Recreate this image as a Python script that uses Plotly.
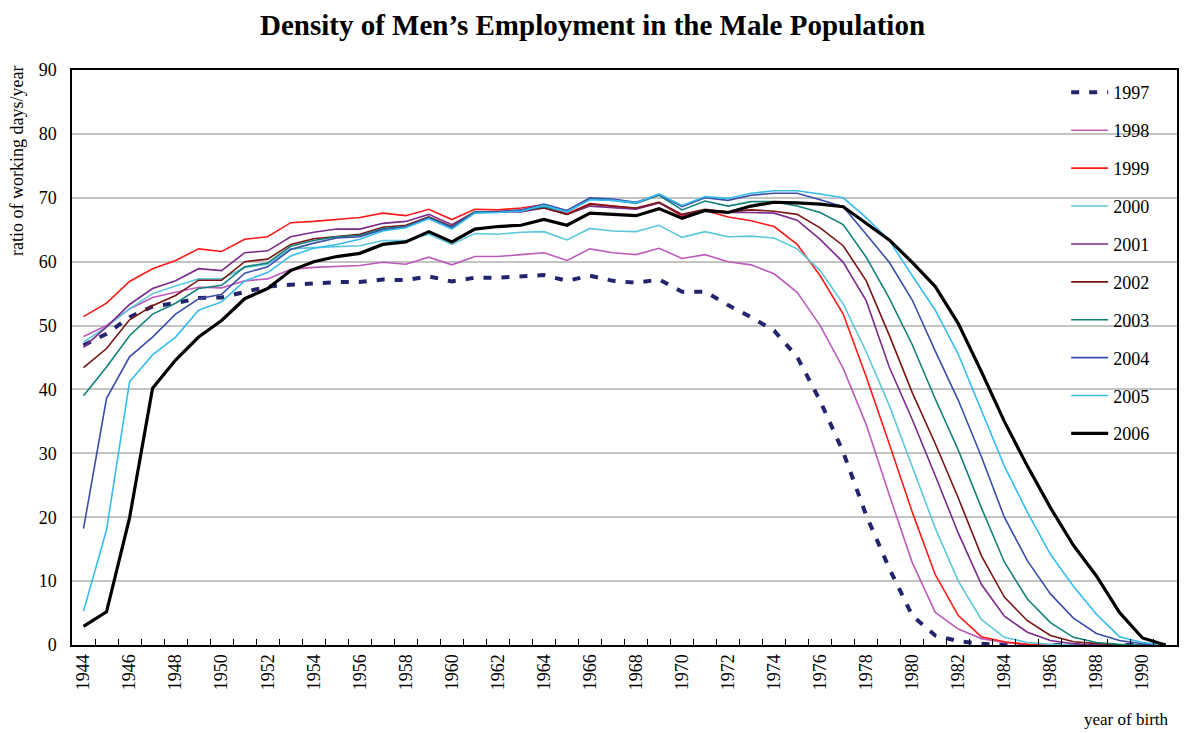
import plotly.graph_objects as go

# Year of birth (category axis)
years = list(range(1944, 1992))

# Ratio of working days per year, by survey year
v1997 = [46.9, 48.7, 51.3, 53.0, 53.5, 54.3, 54.4, 55.2, 56.1, 56.4, 56.6, 56.8,
         56.8, 57.2, 57.1, 57.7, 56.9, 57.5, 57.5, 57.7, 57.9, 57.0, 57.8, 57.0, 56.7, 57.2,
         55.3, 55.3, 53.2, 51.3, 49.2, 45.1, 38.2, 30.2, 20.3, 12.0, 4.6, 1.5, 0.6, 0.2,
         0, 0, 0, 0, 0, 0, 0, 0]
v1998 = [48.3, 50.0, 52.6, 54.4, 55.2, 56.0, 55.9, 57.0, 57.3, 58.8, 59.1, 59.2,
         59.4, 59.9, 59.6, 60.7, 59.5, 60.8, 60.8, 61.1, 61.4, 60.2, 62.0, 61.4, 61.1, 62.1,
         60.5, 61.1, 60.0, 59.5, 58.1, 55.2, 50.0, 43.3, 34.5, 23.5, 12.9, 5.1, 2.5, 1.0,
         0.4, 0.1, 0, 0, 0, 0, 0, 0]
v1999 = [51.4, 53.5, 56.9, 58.9, 60.2, 62.0, 61.6, 63.5, 63.9, 66.1, 66.3, 66.6,
         66.9, 67.6, 67.2, 68.2, 66.6, 68.2, 68.1, 68.4, 68.9, 67.5, 69.1, 68.7, 68.3, 69.3,
         67.1, 68.0, 67.0, 66.4, 65.5, 62.7, 57.8, 51.8, 42.0, 31.5, 20.8, 11.0, 4.6, 1.3,
         0.5, 0.1, 0, 0, 0, 0, 0, 0]
v2000 = [47.4, 49.8, 52.6, 55.0, 56.2, 57.3, 57.3, 59.1, 59.6, 62.0, 62.2, 62.4,
         62.5, 63.3, 63.3, 64.3, 62.7, 64.4, 64.3, 64.6, 64.7, 63.4, 65.2, 64.8, 64.7, 65.7,
         63.8, 64.7, 63.9, 64.0, 63.7, 62.0, 58.6, 53.4, 45.9, 37.5, 28.0, 18.3, 10.0, 4.0,
         1.2, 0.4, 0.1, 0, 0, 0, 0, 0]
v2001 = [46.6, 49.8, 53.3, 55.8, 57.0, 58.9, 58.6, 61.4, 61.7, 63.9, 64.6, 65.1,
         65.1, 66.0, 66.3, 67.4, 65.8, 67.8, 67.8, 67.8, 68.4, 67.4, 68.7, 68.5, 68.2, 69.2,
         67.3, 68.0, 67.7, 67.7, 67.6, 66.5, 63.5, 59.9, 53.9, 43.5, 35.3, 26.5, 17.5, 9.5,
         4.5, 2.0, 0.7, 0.2, 0, 0, 0, 0]
v2002 = [43.4, 46.4, 50.9, 53.1, 54.7, 57.1, 57.1, 60.0, 60.4, 62.7, 63.6, 64.0,
         64.3, 65.4, 65.7, 67.0, 65.5, 67.8, 67.8, 68.0, 68.4, 67.4, 69.0, 68.7, 68.4, 69.3,
         67.4, 68.2, 67.8, 68.1, 67.9, 67.4, 65.3, 62.5, 57.0, 48.5, 39.5, 31.5, 23.0, 14.0,
         7.5, 3.8, 1.5, 0.5, 0.2, 0, 0, 0]
v2003 = [39.0, 43.5, 48.4, 51.8, 53.5, 55.8, 56.3, 59.2, 59.8, 62.4, 63.3, 63.9,
         64.1, 65.2, 65.5, 66.9, 65.4, 67.8, 67.8, 68.0, 68.6, 67.8, 69.8, 69.6, 69.1, 70.4,
         68.1, 69.5, 68.7, 69.4, 69.4, 68.7, 67.7, 65.8, 60.7, 54.3, 47.0, 38.5, 30.5, 21.5,
         13.0, 7.2, 3.5, 1.2, 0.4, 0.1, 0, 0]
v2004 = [18.2, 38.6, 45.1, 48.2, 51.8, 54.2, 54.9, 58.2, 59.2, 61.9, 62.9, 63.7,
         63.9, 65.0, 65.4, 66.9, 65.3, 67.7, 67.8, 68.1, 69.0, 68.0, 70.0, 69.8, 69.3, 70.5,
         68.6, 70.0, 69.6, 70.4, 70.7, 70.7, 69.7, 68.6, 64.3, 59.9, 54.0, 46.0, 38.3, 29.5,
         20.0, 13.2, 8.0, 4.2, 1.8, 0.7, 0.2, 0]
v2005 = [5.3, 18.0, 41.2, 45.4, 48.2, 52.4, 53.7, 57.0, 58.3, 60.9, 62.1, 62.7,
         63.5, 64.8, 65.3, 66.7, 65.1, 67.6, 67.7, 67.9, 68.8, 67.8, 69.7, 69.6, 69.2, 70.6,
         68.8, 70.2, 69.9, 70.7, 71.1, 71.1, 70.6, 70.0, 66.9, 63.3, 57.8, 52.4, 45.5, 36.8,
         28.0, 20.8, 14.2, 9.2, 4.8, 1.3, 0.4, 0]
v2006 = [2.9, 5.2, 19.9, 40.2, 44.6, 48.2, 50.8, 54.2, 55.8, 58.6, 60.0, 60.8,
         61.3, 62.7, 63.1, 64.7, 63.1, 65.1, 65.5, 65.7, 66.6, 65.7, 67.6, 67.4, 67.2, 68.3,
         66.8, 68.0, 67.7, 68.7, 69.3, 69.2, 69.0, 68.6, 66.0, 63.4, 59.9, 56.1, 50.3, 42.8,
         35.0, 28.0, 21.5, 15.6, 10.8, 5.1, 1.1, 0]

series_names = ["1997", "1998", "1999", "2000", "2001", "2002", "2003", "2004", "2005", "2006"]
series_values = [v1997, v1998, v1999, v2000, v2001, v2002, v2003, v2004, v2005, v2006]
series_colors = ["#23246E", "#BC5CBC", "#FF1A1A", "#5CC8DC", "#7A2A8A",
                 "#7A1414", "#14807A", "#3A4EA8", "#35BDEE", "#000000"]
series_widths = [4, 1.6, 1.6, 1.6, 1.6, 1.6, 1.6, 1.6, 1.6, 3.2]
series_dash = ["8px,10px"] + ["solid"] * 9

label_years = list(range(1944, 1991, 2))
y_ticks = list(range(0, 91, 10))

SERIF = "Liberation Serif, Times New Roman, serif"

fig = go.Figure()
for name, vals, col, w, dash in zip(series_names, series_values, series_colors,
                                    series_widths, series_dash):
    fig.add_trace(go.Scatter(
        x=years, y=vals, name=name, mode="lines", legendgroup=name,
        line=dict(color=col, width=w, dash=dash),
    ))

# invisible helper trace that carries the between-category tick marks
fig.add_trace(go.Scatter(x=[years[0], years[-1]], y=[0, 0], xaxis="x2",
                         mode="lines", line=dict(width=0), showlegend=False,
                         hoverinfo="skip"))

x_range = [years[0] - 0.5, years[-1] + 0.5]

fig.update_layout(
    width=1185, height=733,
    margin=dict(l=72, r=6, t=70, b=88),
    paper_bgcolor="white", plot_bgcolor="white",
    font=dict(family=SERIF, color="black"),
    title=dict(text="<b>Density of Men’s Employment in the Male Population</b>",
               x=0.5, xanchor="center", y=0.966, yanchor="middle",
               font=dict(family=SERIF, size=29, color="black")),
    xaxis=dict(range=x_range, tickmode="array", tickvals=label_years,
               ticktext=[str(y) for y in label_years], tickangle=-90,
               ticks="", showgrid=False, zeroline=False,
               showline=True, linecolor="black", linewidth=2, mirror=True,
               tickfont=dict(family=SERIF, size=18, color="black")),
    xaxis2=dict(range=x_range, overlaying="x", side="bottom",
                tickmode="array", tickvals=[y + 0.5 for y in years[:-1]],
                ticks="inside", ticklen=6, tickwidth=1.3, tickcolor="black",
                showticklabels=False, showgrid=False, zeroline=False,
                showline=False),
    yaxis=dict(range=[0, 90], tickmode="array", tickvals=y_ticks,
               showgrid=True, gridcolor="#C4C4C4", gridwidth=1.5,
               zeroline=False, showline=True, linecolor="black", linewidth=1.5,
               mirror=True, ticks="", ticklabelstandoff=10,
               tickfont=dict(family=SERIF, size=18, color="black")),
    legend=dict(x=0.8997, xanchor="left", y=0.9928, yanchor="top",
                bgcolor="rgba(255,255,255,0)", borderwidth=0,
                font=dict(family=SERIF, size=18, color="black"),
                tracegroupgap=11.5, itemwidth=37,
                entrywidth=70, entrywidthmode="pixels"),
    # white panel behind the legend, hiding the grid there
    shapes=[dict(type="rect", xref="paper", yref="paper",
                 x0=0.8636, x1=0.9985, y0=0.339, y1=1.0,
                 fillcolor="white", line=dict(width=0), layer="between")],
    annotations=[
        dict(text="ratio of working days/year", xref="paper", yref="paper",
             x=-0.05, y=1.01, xanchor="center", yanchor="top", textangle=-90,
             showarrow=False, font=dict(family=SERIF, size=18, color="black")),
        dict(text="year of birth", xref="paper", yref="paper",
             x=0.995, y=-0.130, xanchor="right", yanchor="middle",
             showarrow=False, font=dict(family=SERIF, size=17, color="black")),
    ],
)

fig.write_html("out.html")
